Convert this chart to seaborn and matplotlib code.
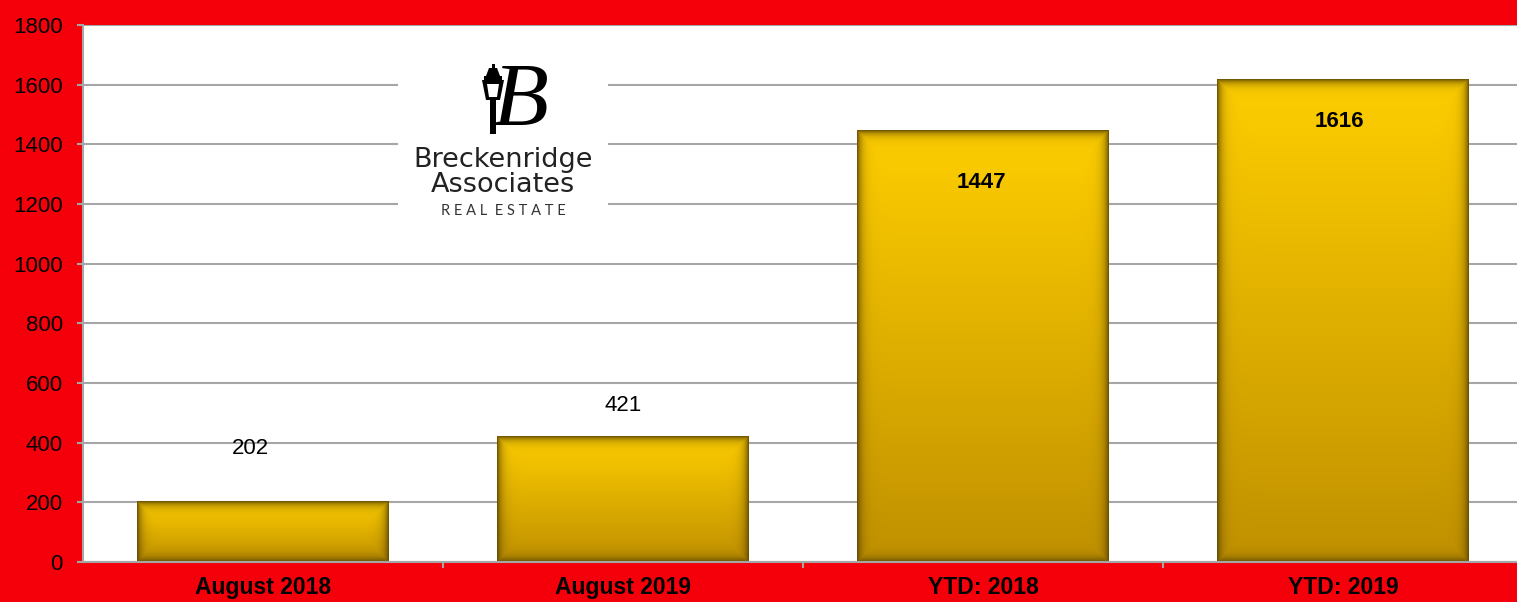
"""Breckenridge Associates - sales comparison bar chart."""

import matplotlib

matplotlib.use("Agg")
import matplotlib.pyplot as plt
import numpy as np
import pandas as pd
import seaborn as sns
from matplotlib.patches import Polygon, Rectangle

categories = ["August 2018", "August 2019", "YTD: 2018", "YTD: 2019"]
values = [202, 421, 1447, 1616]
y_ticks = [0, 200, 400, 600, 800, 1000, 1200, 1400, 1600, 1800]

RED = "#F5000A"
GRID = "#A6A6A6"
TOP_GOLD = np.array([254, 206, 0]) / 255
BOT_GOLD = np.array([192, 144, 0]) / 255
EDGE_DARK = np.array([90, 68, 0]) / 255

df = pd.DataFrame({"category": categories, "value": values})

sns.set_theme(style="white")
plt.rcParams["font.family"] = ["Liberation Sans", "DejaVu Sans"]

W, H = 1517, 602
fig = plt.figure(figsize=(W / 100, H / 100), dpi=100, facecolor=RED)
ax = fig.add_axes([0.0547, 0.0664, 0.9492, 0.8920])
ax.set_facecolor("white")

sns.barplot(data=df, x="category", y="value", width=0.70, color="#E0B000", ax=ax, zorder=2)

ax.set_ylim(0, 1800)
ax.set_xlim(-0.5, len(categories) - 0.5)
ax.set_yticks(y_ticks)
ax.yaxis.grid(True, color=GRID, linewidth=1.5, zorder=0)
ax.set_axisbelow(True)
ax.set_xlabel("")
ax.set_ylabel("")

for side in ["top", "right"]:
    ax.spines[side].set_visible(False)
for side in ["left", "bottom"]:
    ax.spines[side].set_color(GRID)
    ax.spines[side].set_linewidth(1.5)

ax.tick_params(axis="y", which="major", length=4.5, width=1.5, color=GRID,
               labelsize=16, labelcolor="black", left=True, pad=10)
ax.tick_params(axis="x", which="major", length=0, labelsize=16.5, labelcolor="black", pad=10)
for lbl in ax.get_xticklabels():
    lbl.set_fontweight("bold")
ax.set_xticks(np.arange(len(categories) - 1) + 0.5, minor=True)
ax.tick_params(axis="x", which="minor", length=4.5, width=1.5, color=GRID, bottom=True)

# gradient fill with dark inner shadow on every bar
px_per_x = 360.0
px_per_y = 537.0 / 1800
for patch in ax.patches:
    x0, w, h = patch.get_x(), patch.get_width(), patch.get_height()
    nx = max(int(w * px_per_x), 2)
    ny = max(int(h * px_per_y), 2)
    t = np.linspace(0, 1, ny)[:, None, None]
    base = TOP_GOLD + (BOT_GOLD - TOP_GOLD) * t
    base = np.broadcast_to(base, (ny, nx, 3))
    xx = np.arange(nx)
    yy = np.arange(ny)
    dx = np.minimum(xx, nx - 1 - xx)[None, :]
    dy = np.minimum(yy, ny - 1 - yy)[:, None]
    d = np.minimum(dx, dy)
    k = np.exp(-d / 4.5)[:, :, None] * 0.85
    img = base * (1 - k) + EDGE_DARK * k
    patch.set_facecolor("none")
    patch.set_edgecolor("none")
    ax.imshow(img, extent=[x0, x0 + w, 0, h], aspect="auto", zorder=2,
              interpolation="bilinear")
ax.set_xlim(-0.5, len(categories) - 0.5)
ax.set_ylim(0, 1800)

# value labels (offsets in pixels)
label_dx = [-13, 0, -2, -4]
label_dy = [53, 31, -52, -42]
label_weights = ["normal", "normal", "bold", "bold"]
for i, v in enumerate(values):
    ax.annotate(str(v), (i, v), xytext=(label_dx[i] * 0.72, label_dy[i] * 0.72),
                textcoords="offset points", ha="center", va="center", fontsize=16,
                fontweight=label_weights[i], color="black", zorder=5)


# logo block
def fx(px):
    return px / W


def fy(py):
    return 1 - py / H


fig.patches.append(Rectangle((fx(398), fy(222)), fx(210), (222 - 55) / H,
                             transform=fig.transFigure, facecolor="white",
                             edgecolor="none", zorder=3))
# street lamp
lamp = [
    Rectangle((fx(490), fy(134)), fx(6), 40 / H),                       # post
    Polygon([(fx(482), fy(80)), (fx(504), fy(80)), (fx(500), fy(100)),
             (fx(486), fy(100))]),                                      # lantern
    Rectangle((fx(484), fy(80)), fx(18), 4 / H),                        # lantern top rim
    Polygon([(fx(486), fy(76)), (fx(500), fy(76)), (fx(497), fy(68)),
             (fx(489), fy(68))]),                                       # cap
    Rectangle((fx(491.5), fy(68)), fx(3), 4 / H),                       # finial
]
for shp in lamp:
    shp.set_transform(fig.transFigure)
    shp.set_facecolor("black")
    shp.set_edgecolor("none")
    shp.set_zorder(4)
    fig.patches.append(shp)
fig.patches.append(Polygon([(fx(487), fy(84)), (fx(499), fy(84)), (fx(497), fy(97)),
                            (fx(489), fy(97))], transform=fig.transFigure,
                           facecolor="white", edgecolor="none", zorder=4.5))

fig.text(fx(520), fy(104), "B", fontsize=66, family=["Liberation Serif"], style="italic",
         ha="center", va="center", color="black", zorder=5)
fig.text(fx(503), fy(173), "Breckenridge\nAssociates", fontsize=19.5,
         family=["DejaVu Sans"], ha="center", va="center", color="#222222",
         linespacing=0.95, zorder=5)
fig.text(fx(503), fy(211), "R E A L   E S T A T E".replace("   ", "  "), fontsize=10.5,
         family=["Lato", "DejaVu Sans"], ha="center", va="center", color="#333333", zorder=5)

fig.savefig("out.png", dpi=100, facecolor=RED)
